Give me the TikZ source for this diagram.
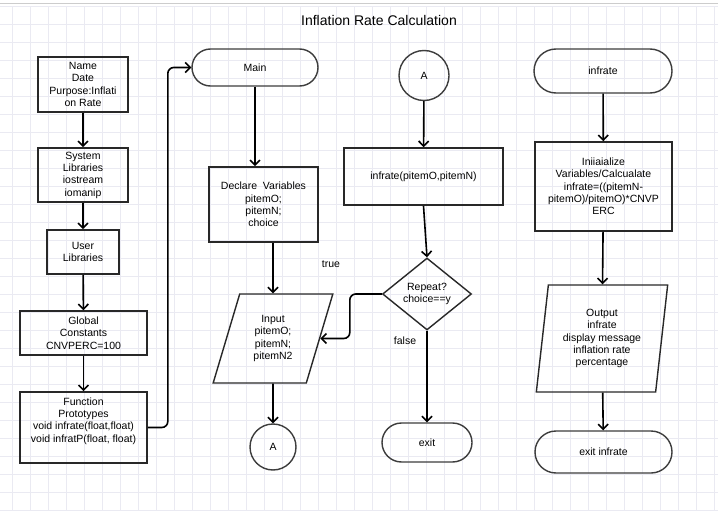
\documentclass[tikz,border=0pt]{standalone}
\usepackage{fontspec}
\setmainfont{Liberation Sans}
\usetikzlibrary{shapes.geometric,shapes.misc,arrows.meta}
\definecolor{gridc}{RGB}{234,234,242}
\definecolor{edgec}{RGB}{40,40,40}

\begin{document}
\begin{tikzpicture}[x=1pt,y=-1pt,
    every node/.style={font=\fontsize{10.5}{12.3}\selectfont, inner sep=0pt},
    box/.style={draw=edgec, line width=1.6pt, align=center},
    term/.style={rounded rectangle, draw=edgec!90, line width=1.4pt},
    io/.style={trapezium, trapezium stretches=true, draw=edgec, line width=1.4pt, align=center},
    conn/.style={circle, draw=edgec!90, line width=1.4pt},
    flow/.style={line width=1.6pt, -{Straight Barb[length=5pt,width=10pt]}}]
    % Page and grid
    \useasboundingbox (0,0) rectangle (718,511);
    \fill[white] (0,0) rectangle (718,511);
    \begin{scope}[shift={(12,6)}]
        \draw[gridc, line width=0.5pt, step=18pt] (-12,0) grid (706,505);
    \end{scope}
    \draw[black!20, line width=1pt] (0,4) -- (718,4);
    \node[font=\fontsize{14}{16}\selectfont] (title) at (379,20) {Inflation Rate Calculation};

    % Header column
    \node[box, minimum width=90pt, minimum height=55pt] (name) at (83,84.5) {Name\\Date\\Purpose:Inflati\\on Rate};
    \node[box, minimum width=90pt, minimum height=54pt] (syslib) at (83,175) {System\\Libraries\\iostream\\iomanip};
    \node[box, minimum width=72pt, minimum height=44pt] (userlib) at (83,252) {User\\Libraries};
    \node[box, minimum width=127pt, minimum height=44pt] (glob) at (83.5,333) {Global\\Constants\\CNVPERC=100};
    \node[box, minimum width=127pt, minimum height=71pt, text depth=15pt] (proto) at (83.5,427.5) {Function\\Prototypes\\void infrate(float,float)\\void infratP(float, float)};
    \draw[flow] (name) -- (syslib);
    \draw[flow] (syslib) -- (userlib);
    \draw[flow] (userlib) -- (glob);
    \draw[flow] (glob) -- (proto);

    % Main
    \node[term, minimum width=126pt, minimum height=37pt] (main) at (255,67.5) {Main};
    \node[box, minimum width=109pt, minimum height=75pt] (decl) at (263.5,204.5) {Declare\ \ Variables\\pitemO;\\pitemN;\\choice};
    \node[io, minimum width=120pt, minimum height=89pt, trapezium left angle=71.4, trapezium right angle=108.6] (input) at (273,338.5) {Input\\pitemO;\\pitemN;\\pitemN2};
    \node[conn, minimum size=46pt] (outA) at (273,447) {A};
    \node (true) at (331,264) {true};
    \draw[flow, rounded corners=6pt] (proto.east) -- ++(20,0) |- (main.west);
    \draw[flow] (main.south) -- (main.south |- decl.north);
    \draw[flow] (input.north |- decl.south) -- (input.north);
    \draw[flow] (input.south) -- (outA.north);

    % Loop from connector A
    \node[conn, minimum size=50pt] (inA) at (424,75.5) {A};
    \node[box, minimum width=159pt, minimum height=57pt] (call) at (423.5,176.5) {infrate(pitemO,pitemN)};
    \node[diamond, aspect=1.236, draw=edgec, line width=1.4pt, align=center, minimum width=89pt, minimum height=72pt] (rep) at (427,294) {Repeat?\\choice==y};
    \node (false) at (405,341) {false};
    \node[term, minimum width=90pt, minimum height=39pt] (exit) at (427,442.5) {exit};
    \draw[flow] (inA) -- (call);
    \draw[flow] (call.south) -- (rep.north);
    \draw[flow, rounded corners=6pt] (rep.west) -- ++(-32,0) |- (input.east);
    \draw[flow] (rep.south) -- (exit.north);

    % Function infrate
    \node[term, minimum width=138pt, minimum height=44pt] (infr) at (603,71) {infrate};
    \node[box, minimum width=137pt, minimum height=89pt] (calc) at (603.5,186.5) {Iniiaialize\\Variables/Calcualate\\infrate=((pitemN-\\pitemO)/pitemO)*CNVP\\ERC};
    \node[io, minimum width=132pt, minimum height=107pt, trapezium left angle=81.5, trapezium right angle=98.5] (output) at (602,338.5) {Output\\infrate\\display message\\inflation rate\\percentage};
    \node[term, minimum width=137pt, minimum height=42pt] (exitinf) at (603.5,452) {exit infrate};
    \draw[flow] (infr) -- (calc);
    \draw[flow] (calc) -- (output);
    \draw[flow] (output) -- (exitinf);
\end{tikzpicture}
\end{document}
